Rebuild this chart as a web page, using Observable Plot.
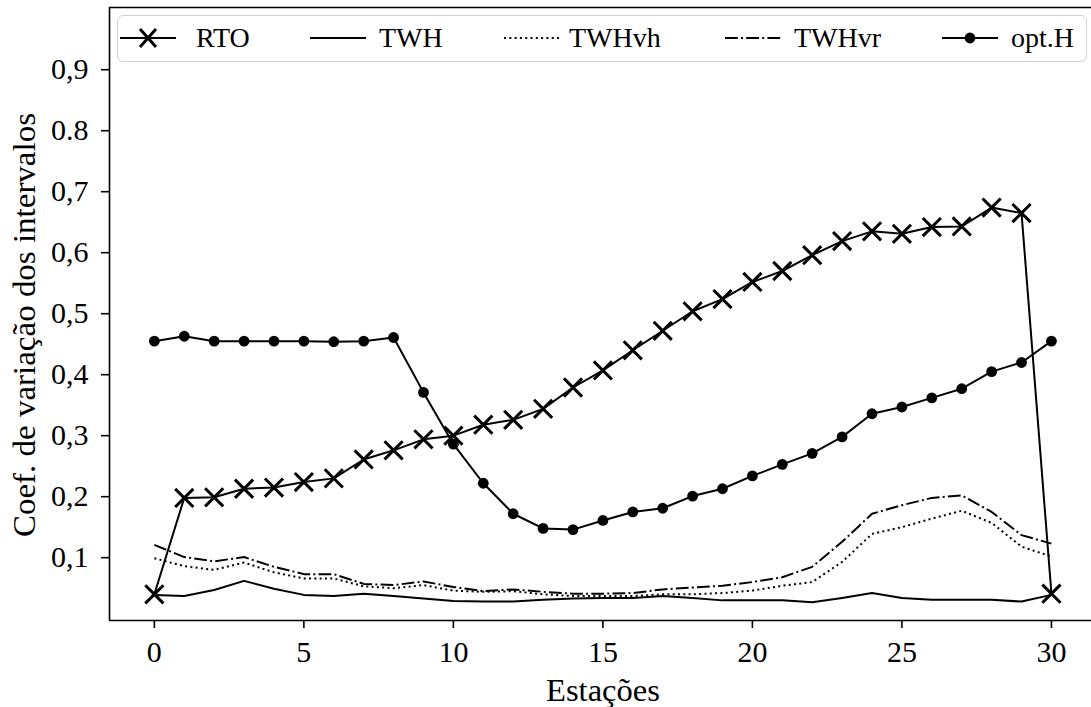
<!DOCTYPE html>
<html><head><meta charset="utf-8">
<script src="https://cdn.jsdelivr.net/npm/d3@7"></script>
<script src="https://cdn.jsdelivr.net/npm/@observablehq/plot@0.6"></script>
<style>
html,body{margin:0;padding:0;background:#fff;overflow:hidden}
#wrap{position:relative;width:1091px;height:707px}
#wrap svg{overflow:hidden;display:block}
.legend{position:absolute;left:117px;top:15px;width:968px;height:45px;border:1.3px solid #d3d3d3;border-radius:6px;background:rgba(255,255,255,0.85);font-family:"Liberation Serif",serif;font-size:28px;color:#000}
.legend svg{position:absolute;top:0}
.legend span{position:absolute;top:4px;line-height:36px;white-space:nowrap}
</style></head><body><div id="wrap"></div>
<script>
const stations = [0,1,2,3,4,5,6,7,8,9,10,11,12,13,14,15,16,17,18,19,20,21,22,23,24,25,26,27,28,29,30];
const rto   = [0.040,0.198,0.199,0.213,0.215,0.224,0.230,0.261,0.276,0.294,0.300,0.318,0.326,0.344,0.379,0.407,0.440,0.472,0.504,0.524,0.552,0.570,0.596,0.619,0.635,0.631,0.642,0.643,0.674,0.665,0.041];
const twh   = [0.039,0.037,0.047,0.062,0.049,0.039,0.037,0.041,0.037,0.033,0.029,0.028,0.028,0.031,0.033,0.034,0.034,0.037,0.034,0.030,0.030,0.030,0.027,0.034,0.042,0.034,0.031,0.031,0.031,0.028,0.039];
const twhvh = [0.099,0.086,0.080,0.092,0.076,0.066,0.066,0.053,0.050,0.055,0.046,0.044,0.045,0.040,0.037,0.037,0.037,0.040,0.040,0.042,0.046,0.054,0.060,0.093,0.139,0.150,0.164,0.177,0.157,0.118,0.102];
const twhvr = [0.121,0.101,0.094,0.101,0.085,0.073,0.073,0.057,0.055,0.061,0.052,0.045,0.048,0.044,0.041,0.041,0.042,0.048,0.051,0.054,0.060,0.068,0.085,0.126,0.172,0.186,0.198,0.202,0.175,0.137,0.123];
const optH  = [0.455,0.463,0.455,0.455,0.455,0.455,0.454,0.455,0.461,0.371,0.286,0.222,0.172,0.148,0.146,0.161,0.175,0.181,0.201,0.213,0.234,0.253,0.271,0.298,0.336,0.347,0.362,0.377,0.405,0.420,0.455];
const seriesNames = ["RTO","TWH","TWHvh","TWHvr","opt.H"];
const xTicks = [0,5,10,15,20,25,30];
const yTicks = [0.1,0.2,0.3,0.4,0.5,0.6,0.7,0.8,0.9];
const yTickLabels = ["0,1","0,2","0,3","0,4","0,5","0,6","0,7","0.8","0,9"];
const xLabel = "Estações";
const yLabel = "Coef. de variação dos intervalos";

const xDomain = [-1.5, 31.34];
const yDomain = [-0.003, 1.002];
const rows = stations.map((s, i) => ({s, rto: rto[i], twh: twh[i], twhvh: twhvh[i], twhvr: twhvr[i], optH: optH[i]}));
const font = '"Liberation Serif", "Times New Roman", serif';

const plot = Plot.plot({
  width: 1091, height: 707,
  marginLeft: 109, marginRight: 0, marginTop: 7, marginBottom: 87,
  style: {fontFamily: font, fontSize: "30px", color: "black", background: "white"},
  x: {domain: xDomain},
  y: {domain: yDomain},
  marks: [
    Plot.line(rows, {x: "s", y: "rto", stroke: "black", strokeWidth: 2}),
    Plot.dot(rows, {x: "s", y: "rto", symbol: "times", r: 8.3, stroke: "black", strokeWidth: 3}),
    Plot.line(rows, {x: "s", y: "twh", stroke: "black", strokeWidth: 2}),
    Plot.line(rows, {x: "s", y: "twhvh", stroke: "black", strokeWidth: 2, strokeDasharray: "2,3.3", strokeLinecap: "butt"}),
    Plot.line(rows, {x: "s", y: "twhvr", stroke: "black", strokeWidth: 2, strokeDasharray: "12.8,3.2,2,3.2", strokeLinecap: "butt"}),
    Plot.line(rows, {x: "s", y: "optH", stroke: "black", strokeWidth: 2}),
    Plot.dot(rows, {x: "s", y: "optH", r: 5.4, fill: "black", stroke: "none"}),
    Plot.ruleX([xDomain[0]], {stroke: "black", strokeWidth: 1.6}),
    Plot.ruleY([yDomain[0], yDomain[1]], {stroke: "black", strokeWidth: 1.6}),
    Plot.axisY(yTicks, {tickSize: 8, tickPadding: 13, strokeWidth: 1.6, tickFormat: d => yTickLabels[yTicks.indexOf(d)], label: null}),
    Plot.axisX(xTicks, {tickSize: 8, tickPadding: 12, strokeWidth: 1.6, tickFormat: d => String(d), label: null})
  ]
});
const wrap = document.getElementById("wrap");
wrap.appendChild(plot);
const svg = d3.select(plot);
svg.append("text").attr("transform", "translate(24,325) rotate(-90)")
  .attr("text-anchor", "middle").attr("dominant-baseline", "central")
  .attr("textLength", 424).attr("lengthAdjust", "spacingAndGlyphs")
  .attr("font-family", font).attr("font-size", 31).attr("fill", "black").text(yLabel);
svg.append("text").attr("x", 603).attr("y", 690)
  .attr("text-anchor", "middle").attr("dominant-baseline", "central")
  .attr("textLength", 114).attr("lengthAdjust", "spacingAndGlyphs")
  .attr("font-family", font).attr("font-size", 31).attr("fill", "black").text(xLabel);

// legend (inside the axes, as in the reference)
const legend = document.createElement("div");
legend.className = "legend";
wrap.appendChild(legend);
const handleLeft = [2, 192, 386, 607, 824];
const textLeft = [78, 261, 451, 676, 893];
const styles = [
  {dash: null, marker: "x"},
  {dash: null, marker: null},
  {dash: "2,3.3", marker: null},
  {dash: "12.8,3.2,2,3.2", marker: null},
  {dash: null, marker: "o"}
];
seriesNames.forEach((name, i) => {
  const hs = d3.select(legend).append("svg").attr("width", 56).attr("height", 45).style("left", handleLeft[i] + "px");
  const ln = hs.append("line").attr("x1", 0).attr("x2", 56).attr("y1", 22).attr("y2", 22).attr("stroke", "black").attr("stroke-width", 2);
  if (styles[i].dash) ln.attr("stroke-dasharray", styles[i].dash);
  if (styles[i].marker === "x") hs.append("path").attr("d", "M20,13L36,31M20,31L36,13").attr("stroke", "black").attr("stroke-width", 3).attr("fill", "none");
  if (styles[i].marker === "o") hs.append("circle").attr("cx", 28).attr("cy", 22).attr("r", 5.4).attr("fill", "black");
  d3.select(legend).append("span").style("left", textLeft[i] + "px").text(name);
});
</script></body></html>
